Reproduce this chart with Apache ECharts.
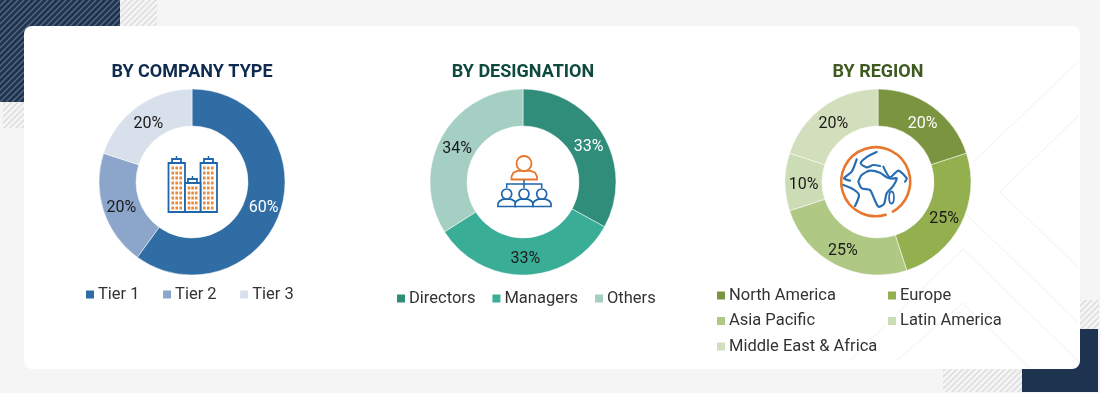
<!DOCTYPE html>
<html>
<head>
<meta charset="utf-8">
<style>
  html, body { margin: 0; padding: 0; background: #f5f5f5; }
  #chart { width: 1100px; height: 393px; }
</style>
</head>
<body>
<div id="chart"></div>
<script src="https://cdn.jsdelivr.net/npm/echarts@6/dist/echarts.min.js"></script>
<script>
// chart data
const titles = ['BY COMPANY TYPE', 'BY DESIGNATION', 'BY REGION']
const companyNames = ['Tier 1', 'Tier 2', 'Tier 3']
const companyValues = [60, 20, 20]
const designationNames = ['Directors', 'Managers', 'Others']
const designationValues = [33, 33, 34]
const regionNames = ['North America', 'Europe', 'Asia Pacific', 'Latin America', 'Middle East & Africa']
const regionValues = [20, 25, 25, 10, 20]

const companyColors = ['#306da4', '#8ca5ca', '#d8e0ec']
const designationColors = ['#2f8d7a', '#3aad96', '#a5cfc3']
const regionColors = ['#7a9440', '#93af4e', '#afc884', '#ccdcb5', '#d3dfbc']

const FONT = 'Roboto'
const DARK = '#1a1a1a'
const BLUE = '#1f66ab'
const ORANGE = '#e8772e'

function hatch(bg, stripe) {
  const c = document.createElement('canvas')
  c.width = 6
  c.height = 6
  const x = c.getContext('2d')
  x.fillStyle = bg
  x.fillRect(0, 0, 6, 6)
  x.strokeStyle = stripe
  x.lineWidth = 1.5
  x.beginPath()
  x.moveTo(-3, 3); x.lineTo(3, -3)
  x.moveTo(0, 6); x.lineTo(6, 0)
  x.moveTo(3, 9); x.lineTo(9, 3)
  x.stroke()
  return { image: c, repeat: 'repeat' }
}

function pie(cx, names, values, colors, whiteIdx, nudge) {
  return {
    type: 'pie',
    center: [cx, 182],
    radius: [56, 93],
    startAngle: 90,
    silent: true,
    itemStyle: { borderColor: '#ffffff', borderWidth: 0.5 },
    label: {
      position: 'inside',
      formatter: '{d}%',
      fontFamily: FONT,
      fontSize: 16,
      color: DARK
    },
    labelLine: { show: false },
    labelLayout: p => ({ dx: nudge[p.dataIndex][0], dy: nudge[p.dataIndex][1] }),
    data: values.map((v, i) => ({
      name: names[i],
      value: v,
      itemStyle: { color: colors[i] },
      label: i === whiteIdx ? { color: '#ffffff' } : {}
    }))
  }
}

function legend(names, left, top, gap, orient) {
  return {
    data: names,
    left: left,
    top: top,
    orient: orient,
    padding: 0,
    itemGap: gap,
    itemWidth: 10,
    itemHeight: 10,
    selectedMode: false,
    icon: 'rect',
    textStyle: { fontFamily: FONT, fontSize: 16.5, color: '#333333', padding: [0, 0, 0, -2] }
  }
}

function line(points, color, width, z) {
  return { type: 'polyline', z: z, silent: true, shape: { points: points }, style: { stroke: color, lineWidth: width, fill: null } }
}

function rect(x, y, w, h, fill, z, r) {
  return { type: 'rect', z: z, silent: true, shape: { x: x, y: y, width: w, height: h, r: r || 0 }, style: { fill: fill } }
}

// background panels
const background = [
  rect(0, 0, 120, 102, hatch('#1e3350', '#56677f'), -5),
  rect(120, 0, 37, 26, hatch('#f5f5f5', '#dcdcdc'), -5),
  rect(3, 102, 21, 26, hatch('#f5f5f5', '#dcdcdc'), -5),
  rect(943, 369, 79, 23, hatch('#f5f5f5', '#dcdcdc'), -5),
  rect(1080, 300, 19, 29, hatch('#f5f5f5', '#dcdcdc'), -5),
  rect(1022, 329, 76, 63, '#1e3350', -5),
  rect(24, 26, 1056, 343, '#ffffff', -4, 8),
  line([[972, 163], [1079, 61]], '#f1f1f1', 1, -3),
  line([[1079, 115], [1000, 192], [1079, 268]], '#f1f1f1', 1, -3),
  line([[967, 215], [1078, 322]], '#f1f1f1', 1, -3),
  line([[850, 360], [963, 249], [1077, 360]], '#f1f1f1', 1, -3),
  line([[897, 360], [963, 303], [1030, 368]], '#f1f1f1', 1, -3)
]

// centre icons
function buildingIcon() {
  const out = []
  const tower = (x, y, w, h) => out.push({
    type: 'rect', z: 20, silent: true,
    shape: { x: x, y: y, width: w, height: h },
    style: { fill: '#ffffff', stroke: BLUE, lineWidth: 1.8 }
  })
  tower(168.5, 163, 16.5, 49)
  tower(200.5, 163, 16.5, 49)
  tower(185, 183, 15.5, 29)
  ;[[172, 159, 9], [204, 159, 9], [188, 179, 9]].forEach(a => {
    tower(a[0], a[1], a[2], 4)
    out.push(line([[a[0] + 4.5, a[1]], [a[0] + 4.5, a[1] - 3]], BLUE, 1.4, 20))
  })
  const dots = (cols, y0, rows) => cols.forEach(x => {
    for (let r = 0; r < rows; r++) {
      out.push(rect(x - 1.3, y0 + r * 5 - 1.5, 2.6, 3, '#e98b3a', 21))
    }
  })
  dots([172.7, 176.7, 180.7], 168, 9)
  dots([204.3, 208.3, 212.3], 168, 9)
  dots([189, 192.6, 196.2], 188, 5)
  return out
}

function personBody(x0, x1, top, base, color, w) {
  const m = (x0 + x1) / 2
  const half = (x1 - x0) / 2
  return {
    type: 'polygon', z: 20, silent: true,
    shape: {
      points: [
        [x0, base], [x0, base - 3], [x0 + half * 0.15, top + 2.2], [x0 + half * 0.5, top + 0.4], [m, top],
        [x1 - half * 0.5, top + 0.4], [x1 - half * 0.15, top + 2.2], [x1, base - 3], [x1, base]
      ]
    },
    style: { fill: '#ffffff', stroke: color, lineWidth: w }
  }
}

function peopleIcon() {
  const out = []
  out.push(personBody(511.5, 537, 170.5, 179.5, ORANGE, 1.8))
  out.push({ type: 'circle', z: 21, silent: true, shape: { cx: 524, cy: 163.5, r: 7.5 }, style: { fill: '#ffffff', stroke: ORANGE, lineWidth: 1.8 } })
  out.push(line([[506.7, 188], [506.7, 184], [541.7, 184], [541.7, 188]], BLUE, 1.5, 20))
  out.push(line([[524, 180], [524, 188]], BLUE, 1.5, 20))
  ;[[498, 516], [515, 533], [533, 551]].forEach(b => out.push(personBody(b[0], b[1], 199, 206.5, BLUE, 1.7)))
  ;[506.7, 524, 541.7].forEach(x => out.push({ type: 'circle', z: 21, silent: true, shape: { cx: x, cy: 194, r: 5 }, style: { fill: '#ffffff', stroke: BLUE, lineWidth: 1.7 } }))
  return out
}

function globeIcon() {
  // outlines traced in zoom coordinates of the icon, scaled down here
  const pts = list => list.map(p => [710 + p[0] / 3, 50 + p[1] / 3])
  const out = []
  out.push({
    type: 'arc', z: 20, silent: true,
    shape: { cx: 875.7, cy: 181.7, r: 34.5, startAngle: 1.25, endAngle: 1.08 + Math.PI * 2 },
    style: { stroke: ORANGE, lineWidth: 2.6, fill: null }
  })
  const shapes = [
    [[445, 395], [455, 375], [480, 362], [510, 368], [530, 382], [546, 386], [560, 385], [548, 410], [530, 430], [522, 462], [505, 470], [490, 440], [480, 420], [455, 415], [445, 395]],
    [[520, 350], [540, 382], [565, 362], [590, 385], [585, 395]],
    [[500, 306], [472, 320], [452, 340], [470, 352], [490, 345], [510, 348]],
    [[440, 328], [425, 365], [402, 385], [420, 392]],
    [[400, 405], [430, 418], [447, 435], [435, 468]]
  ]
  shapes.forEach(s => out.push({
    type: 'polyline', z: 21, silent: true,
    shape: { points: pts(s), smooth: 0.25 },
    style: { stroke: '#2a6eb2', lineWidth: 2.2, fill: null, lineCap: 'round' }
  }))
  out.push({ type: 'ellipse', z: 21, silent: true, shape: { cx: 891.5, cy: 197.5, rx: 2.4, ry: 6 }, style: { fill: '#ffffff', stroke: '#2a6eb2', lineWidth: 1.8 } })
  return out
}

const titleColors = ['#0e2a4f', '#0d4a3d', '#3f5a1f']
const titleCenters = [192, 523, 878]

const chart = echarts.init(document.getElementById('chart'), null, { renderer: 'canvas' })
chart.setOption({
  animation: false,
  backgroundColor: '#f5f5f5',
  title: titles.map((t, i) => ({
    text: t,
    left: titleCenters[i],
    top: 63,
    padding: 0,
    textAlign: 'center',
    textStyle: { fontFamily: FONT, fontSize: 18, fontWeight: 'bold', color: titleColors[i] }
  })),
  legend: [
    legend(companyNames, 84, 286, 21.5, 'horizontal'),
    legend(designationNames, 395, 290, 15, 'horizontal'),
    legend([regionNames[0], regionNames[2], regionNames[4]], 715, 287, 8.5, 'vertical'),
    legend([regionNames[1], regionNames[3]], 886, 287, 8.5, 'vertical')
  ],
  series: [
    pie(titleCenters[0], companyNames, companyValues, companyColors, 0, [[-2, 2], [3, 2], [2, 5]]),
    pie(titleCenters[1], designationNames, designationValues, designationColors, 0, [[-1, 4], [0, 0], [2, 4]]),
    pie(titleCenters[2], regionNames, regionValues, regionColors, 0, [[-1, 5], [-3, 2], [0, 0], [3, 3], [1, 5]])
  ],
  graphic: { elements: background.concat(buildingIcon(), peopleIcon(), globeIcon()) }
})
</script>
</body>
</html>
